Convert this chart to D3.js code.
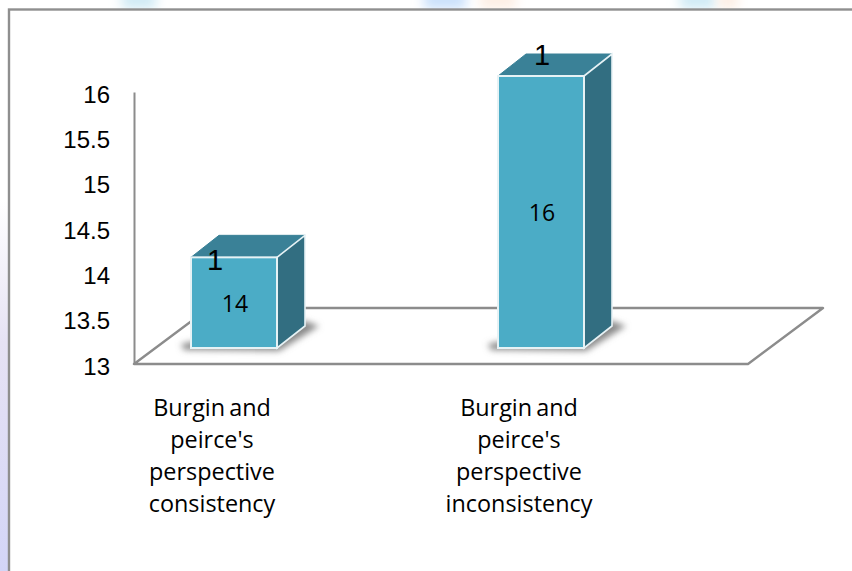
<!DOCTYPE html>
<html>
<head>
<meta charset="utf-8">
<script src="https://cdn.jsdelivr.net/npm/d3@7"></script>
<style>
  html, body { margin: 0; padding: 0; background: #fff; overflow: hidden; }
  svg { display: block; }
</style>
</head>
<body>
<svg id="chart"></svg>
<script>
// data
const categories = ["consistency", "inconsistency"];
const labelLines = ["Burgin and", "peirce's", "perspective"];
const values = [14, 16];
const strayLabels = [1, 1];
const tickValues = [13, 13.5, 14, 14.5, 15, 15.5, 16];

const width = 852, height = 571;

const svg = d3.select("#chart").attr("width", width).attr("height", height);
const defs = svg.append("defs");
defs.append("filter").attr("id", "blur6").attr("x", "-50%").attr("y", "-50%").attr("width", "200%").attr("height", "200%")
    .append("feGaussianBlur").attr("stdDeviation", 6);
defs.append("filter").attr("id", "blur2").attr("x", "-30%").attr("y", "-60%").attr("width", "160%").attr("height", "220%")
    .append("feGaussianBlur").attr("stdDeviation", 3);

// faint page background behind the frame
const background = svg.append("g");
const blobs = [
    { x: 122, w: 34, color: "#cfeaf5" }, { x: 424, w: 42, color: "#c9e0fb" },
    { x: 480, w: 36, color: "#fdeee4" }, { x: 680, w: 36, color: "#cfeaf5" },
    { x: 718, w: 20, color: "#fdeee4" }
];
background.selectAll("rect").data(blobs).join("rect")
    .attr("x", d => d.x).attr("y", -10).attr("width", d => d.w).attr("height", 19)
    .attr("fill", d => d.color).attr("filter", "url(#blur6)");
const leftGrad = defs.append("linearGradient").attr("id", "leftGrad").attr("x1", 0).attr("y1", 0).attr("x2", 0).attr("y2", 1);
leftGrad.append("stop").attr("offset", "0.35").attr("stop-color", "#ffffff");
leftGrad.append("stop").attr("offset", "0.6").attr("stop-color", "#e6e2f4");
leftGrad.append("stop").attr("offset", "1").attr("stop-color", "#d3d5f7");
background.append("rect").attr("x", 0).attr("y", 0).attr("width", 9).attr("height", height).attr("fill", "url(#leftGrad)");

// white plot area and frame
svg.append("rect").attr("x", 9).attr("y", 9.5).attr("width", width).attr("height", height)
    .attr("fill", "#fff").attr("stroke", "#8f8f8f").attr("stroke-width", 2.4);

// scales: the bars stand on a floor lifted off the axis baseline
const yScale = d3.scaleLinear().domain([13, 16]).range([364, 92]);
const xScale = d3.scalePoint().domain(categories).range([234, 541]);
const barWidth = 86, depthX = 28, depthY = 22;
const floorLift = 16, floorX = 75, floorY = 56;
const floorRight = 748;
const barColors = { front: "#4bacc6", top: "#3a8197", side: "#326e81", edge: "#e6f2f5" };
const lineColor = "#8c8c8c";

const base = yScale.range()[0];
const axisX = 134;

// floor
svg.append("path")
    .attr("d", d3.line()([[axisX, base], [floorRight, base], [floorRight + floorX, base - floorY], [axisX + floorX, base - floorY]]) + "Z")
    .attr("fill", "#fff").attr("stroke", lineColor).attr("stroke-width", 2.4).attr("stroke-linejoin", "round");

// y axis
const yAxis = d3.axisLeft(yScale).tickValues(tickValues).tickSize(0).tickPadding(24).tickFormat(d3.format("~g"));
const yAxisGroup = svg.append("g").attr("transform", `translate(${axisX},0)`).call(yAxis);
yAxisGroup.select(".domain").attr("stroke", lineColor).attr("stroke-width", 2);
yAxisGroup.selectAll("text")
    .attr("font-family", "Liberation Sans").attr("font-size", 24).attr("fill", "#000")
    .attr("dx", 0).attr("dy", "0.36em").attr("y", 1.5);

// bars
const bars = svg.selectAll("g.bar")
    .data(values.map((v, i) => ({ value: v, category: categories[i], stray: strayLabels[i] })))
    .join("g").attr("class", "bar")
    .attr("transform", d => `translate(${xScale(d.category) - barWidth / 2},${-floorLift})`);

const barHeight = d => base - yScale(d.value);

// soft floor shadow
bars.append("path")
    .attr("transform", `translate(0,${base})`)
    .attr("d", d3.line()([[-10, -4], [-7, 2], [barWidth + 2, 3], [barWidth + depthX + 14, -22], [barWidth + depthX, -27]]) + "Z")
    .attr("fill", "#8a8a8a").attr("filter", "url(#blur2)");

bars.append("path")
    .attr("d", d => {
        const t = yScale(d.value);
        return d3.line()([[0, t], [depthX, t - depthY], [barWidth + depthX, t - depthY], [barWidth, t]]) + "Z";
    })
    .attr("fill", barColors.top).attr("stroke", barColors.top).attr("stroke-width", 1);
bars.append("path")
    .attr("d", d => {
        const t = yScale(d.value);
        return d3.line()([[barWidth, t], [barWidth + depthX, t - depthY], [barWidth + depthX, base - depthY], [barWidth, base]]) + "Z";
    })
    .attr("fill", barColors.side).attr("stroke", barColors.edge).attr("stroke-width", 1.6);
bars.append("rect")
    .attr("x", 0).attr("y", d => yScale(d.value)).attr("width", barWidth).attr("height", barHeight)
    .attr("fill", barColors.front).attr("stroke", barColors.edge).attr("stroke-width", 2);

// value labels
bars.append("text")
    .attr("x", barWidth / 2 + 1)
    .attr("y", d => (yScale(d.value) + base) / 2 + 9)
    .attr("text-anchor", "middle")
    .attr("font-family", "Open Sans").attr("font-size", 23).attr("fill", "#000")
    .text(d => d.value);

// stray "1" labels sitting on the bar tops
bars.append("text")
    .attr("x", (d, i) => i === 0 ? barWidth / 2 - 19 : barWidth / 2 + 1)
    .attr("y", d => yScale(d.value) + (d.value === 14 ? 13 : -11))
    .attr("text-anchor", "middle")
    .attr("font-family", "Liberation Sans").attr("font-size", 29).attr("fill", "#000")
    .text(d => d.stray);

// category labels
categories.forEach(c => {
    const text = svg.append("text")
        .attr("text-anchor", "middle")
        .attr("font-family", "Open Sans").attr("font-size", 23.4).attr("word-spacing", -2).attr("fill", "#000");
    labelLines.concat([c]).forEach((line, i) => {
        text.append("tspan").attr("x", xScale(c) - 22).attr("y", 415.5 + i * 32).text(line);
    });
});
</script>
</body>
</html>
